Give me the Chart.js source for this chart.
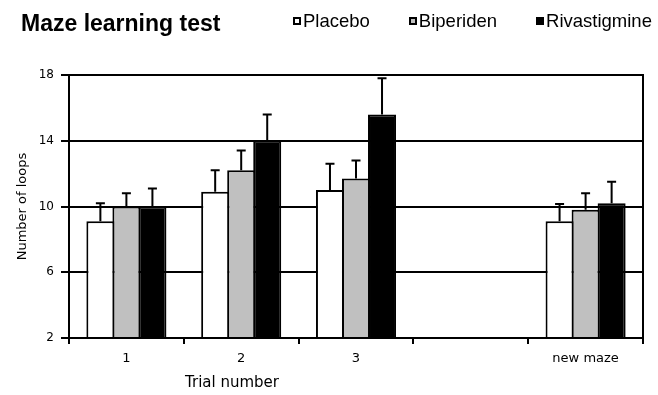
<!DOCTYPE html>
<html><head><meta charset="utf-8">
<script src="https://cdn.jsdelivr.net/npm/chart.js@4/dist/chart.umd.min.js"></script>
<style>
html,body{margin:0;padding:0;background:#fff;}
#wrap{position:relative;width:658px;height:395px;overflow:hidden;}
#c{position:absolute;left:0;top:0;}
#title{position:absolute;left:21px;top:12px;font:bold 23px "Liberation Sans",Arial,sans-serif;line-height:1;white-space:nowrap;color:#000;}
#legend{position:absolute;left:293px;top:12px;display:flex;gap:39px;font:18.5px "Liberation Sans",Arial,sans-serif;line-height:1;white-space:nowrap;color:#000;}
.item{display:flex;align-items:center;}
.box{box-sizing:border-box;width:8px;height:8px;border:2px solid #000;margin-right:2px;}
#xtitle{position:absolute;left:185px;top:375px;font:15px "DejaVu Sans",sans-serif;line-height:1;white-space:nowrap;color:#000;}
</style>
</head><body>
<div id="wrap">
<canvas id="c" width="658" height="395"></canvas>
<div id="title">Maze learning test</div>
<div id="legend"></div>
<div id="xtitle">Trial number</div>
</div>
<script>
// ---- data ----
const categories = ["1", "2", "3", "", "new maze"];
const seriesNames = ["Placebo", "Biperiden", "Rivastigmine"];
const placebo      = [9.1, 10.9, 11.0, null, 9.1];
const biperiden    = [10.0, 12.2, 11.7, null, 9.8];
const rivastigmine = [10.0, 14.0, 15.6, null, 10.2];
const placeboErr      = [1.1, 1.3, 1.6, null, 1.05];
const biperidenErr    = [0.8, 1.2, 1.1, null, 1.0];
const rivastigmineErr = [1.1, 1.6, 2.2, null, 1.3];
const yTicks = [2, 6, 10, 14, 18];
const yTitle = "Number of loops";
const xTitle = "Trial number";

// ---- styles ----
const fills = ["#ffffff", "#c0c0c0", "#000000"];
const seriesValues = [placebo, biperiden, rivastigmine];
const seriesErrors = [placeboErr, biperidenErr, rivastigmineErr];

document.getElementById('xtitle').textContent = xTitle;
const leg = document.getElementById('legend');
seriesNames.forEach((n, i) => {
  const it = document.createElement('div'); it.className = 'item';
  const b = document.createElement('div'); b.className = 'box'; b.style.background = fills[i];
  const s = document.createElement('span'); s.textContent = n;
  it.appendChild(b); it.appendChild(s); leg.appendChild(it);
});

const errorBars = {
  id: 'errorBars',
  afterDatasetsDraw(chart) {
    const ctx = chart.ctx, y = chart.scales.y;
    ctx.save();
    ctx.strokeStyle = '#000'; ctx.lineWidth = 2;
    chart.data.datasets.forEach((ds, di) => {
      const meta = chart.getDatasetMeta(di);
      const errs = seriesErrors[di];
      meta.data.forEach((bar, i) => {
        const v = ds.data[i], e = errs[i];
        if (v == null || e == null) return;
        const y0 = y.getPixelForValue(v), y1 = y.getPixelForValue(v + e);
        ctx.beginPath();
        ctx.moveTo(bar.x, y0); ctx.lineTo(bar.x, y1);
        ctx.moveTo(bar.x - 4.5, y1); ctx.lineTo(bar.x + 4.5, y1);
        ctx.stroke();
      });
    });
    ctx.restore();
  }
};
const rightBorder = {
  id: 'rightBorder',
  afterDraw(chart) {
    const a = chart.chartArea, ctx = chart.ctx;
    ctx.save(); ctx.strokeStyle = '#000'; ctx.lineWidth = 2;
    ctx.beginPath(); ctx.moveTo(a.right, a.top - 1); ctx.lineTo(a.right, a.bottom + 6); ctx.stroke();
    ctx.restore();
  }
};

new Chart(document.getElementById('c'), {
  type: 'bar',
  data: {
    labels: categories,
    datasets: seriesNames.map((n, i) => ({
      label: n,
      data: seriesValues[i],
      backgroundColor: fills[i],
      borderColor: '#000',
      borderWidth: 2,
      borderSkipped: 'bottom',
      categoryPercentage: 0.68,
      barPercentage: 1.077
    }))
  },
  options: {
    responsive: false,
    animation: false,
    layout: { padding: { left: 0, right: 15, top: 75, bottom: 0 } },
    plugins: { legend: { display: false }, title: { display: false }, tooltip: { enabled: false } },
    scales: {
      x: {
        afterFit(s) { s.height = 57; },
        grid: { display: true, drawOnChartArea: false, drawTicks: true, tickLength: 6, offset: true, color: '#000', lineWidth: 2 },
        border: { display: true, color: '#000', width: 2, z: 1 },
        ticks: { color: '#000', padding: 7, font: { family: 'DejaVu Sans', size: 13 }, maxRotation: 0, autoSkip: false }
      },
      y: {
        min: 2, max: 18,
        afterFit(s) { s.width = 69; },
        afterBuildTicks(s) { s.ticks = yTicks.map(v => ({ value: v })); },
        grid: { color: '#000', lineWidth: 2, drawTicks: true, tickLength: 8 },
        border: { display: true, color: '#000', width: 2, z: 1 },
        ticks: { color: '#000', padding: 7, font: { family: 'DejaVu Sans', size: 12 } },
        title: { display: true, text: yTitle, color: '#000', font: { family: 'DejaVu Sans', size: 13 }, padding: { top: 15, bottom: 0 } }
      }
    }
  },
  plugins: [errorBars, rightBorder]
});
</script>
</body></html>
